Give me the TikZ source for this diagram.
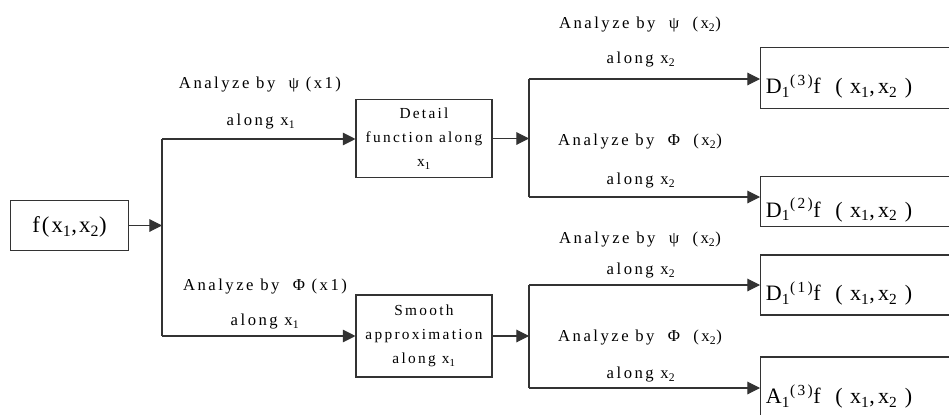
\documentclass[tikz,border=0pt]{standalone}
\usepackage{fontspec}
\setmainfont{Liberation Serif}
\newfontfamily\spacedfont[LetterSpace=15]{Liberation Serif}
\newfontfamily\tightfont[LetterSpace=9]{Liberation Serif}
\usetikzlibrary{arrows.meta}
\tikzset{
  box/.style     ={rectangle, draw=black!80, line width=0.8pt, inner sep=2pt},
  inbox/.style   ={box, minimum width=88pt, minimum height=37pt, text depth=1pt,
                   font=\tightfont\fontsize{17}{19}\selectfont},
  stagebox/.style={box, minimum width=102pt, align=center,
                   font=\spacedfont\fontsize{11.5}{18}\selectfont},
  outbox/.style  ={box, anchor=west, text width=140pt, inner xsep=4pt, align=left,
                   text height=24pt, text depth=0.5pt,
                   font=\spacedfont\fontsize{16.5}{18}\selectfont},
  lbl/.style     ={inner sep=0pt, font=\spacedfont\fontsize{12.5}{14}\selectfont},
  flow/.style    ={line width=0.8pt, draw=black!80},
  flowarr/.style ={flow, -{Triangle[length=9.5pt,width=9.5pt]}},
}
\newcommand\lo[1]{\textsubscript{#1}}
\newcommand\hi[1]{\textsuperscript{#1}}

\begin{document}
\begin{tikzpicture}[x=0.75pt, y=-0.75pt]
\useasboundingbox (0,0) rectangle (949,414);
% input and first split along x1
\node[inbox] (f) at (69.5,225.5) {f(x\lo{1},x\lo{2})};
\coordinate (splitU) at (162,139);
\coordinate (splitD) at (162,336);
\node[stagebox, minimum height=59pt]   (detail) at (424,138.5) {Detail\\function along\\x\lo{1}};
\node[stagebox, minimum height=61.5pt] (smooth) at (424,336)   {Smooth\\approximation\\along x\lo{1}};
\draw[flowarr] (f.east) -- (f.east -| splitU);
\draw[flow] (splitU) -- (splitD);
\draw[flowarr] (splitU) -- (splitU -| detail.west);
\draw[flowarr] (splitD) -- (splitD -| smooth.west);
\node[lbl] (la1) at (260,85)  {Analyze by \ ψ (x1)};
\node[lbl] (la2) at (261,122) {along x\lo{1}};
\node[lbl] (la3) at (265,287) {Analyze by \ Φ (x1)};
\node[lbl] (la4) at (265,322) {along x\lo{1}};
% second split along x2
\coordinate (bD3) at (529,79);
\coordinate (bD2) at (529,197);
\coordinate (bD1) at (529,285);
\coordinate (bA1) at (529,388);
\node[outbox, minimum height=46pt]   (d3) at (760,78)    {D\lo{1}\hi{(3)}f \ ( x\lo{1},x\lo{2} )};
\node[outbox, minimum height=38pt]   (d2) at (760,201.5) {D\lo{1}\hi{(2)}f \ ( x\lo{1},x\lo{2} )};
\node[outbox, minimum height=45pt]   (d1) at (760,285)   {D\lo{1}\hi{(1)}f \ ( x\lo{1},x\lo{2} )};
\node[outbox, minimum height=46.5pt] (a1) at (760,388)   {A\lo{1}\hi{(3)}f \ ( x\lo{1},x\lo{2} )};
\draw[flowarr] (detail.east) -- (detail.east -| bD3);
\draw[flowarr] (smooth.east) -- (smooth.east -| bD3);
\draw[flow] (bD3) -- (bD2);
\draw[flow] (bD1) -- (bA1);
\foreach \b/\t in {bD3/d3, bD2/d2, bD1/d1, bA1/a1}
  \draw[flowarr] (\b) -- (\b -| \t.west);
\node[lbl] (lb1) at (640,25)  {Analyze by \ ψ \ (x\lo{2})};
\node[lbl] (lb2) at (641,60)  {along x\lo{2}};
\node[lbl] (lb3) at (640,142) {Analyze by \ Φ \ (x\lo{2})};
\node[lbl] (lb4) at (641,181) {along x\lo{2}};
\node[lbl] (lb5) at (640,240) {Analyze by \ ψ \ (x\lo{2})};
\node[lbl] (lb6) at (641,271) {along x\lo{2}};
\node[lbl] (lb7) at (640,338) {Analyze by \ Φ \ (x\lo{2})};
\node[lbl] (lb8) at (641,375) {along x\lo{2}};
\end{tikzpicture}
\end{document}
